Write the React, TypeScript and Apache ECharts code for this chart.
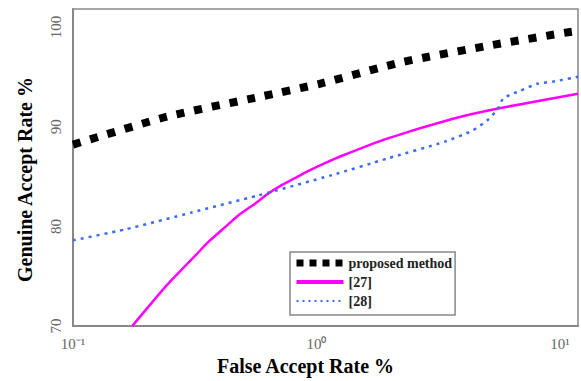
import React, { useEffect, useRef } from "react";
import * as echarts from "echarts";

// False Accept Rate (%) and Genuine Accept Rate (%)
const proposedFAR = [0.1, 0.243, 0.586, 1.03, 2.27, 5.31, 11.0, 11.86];
const proposedGAR = [88.2, 91.0, 93.0, 94.3, 96.5, 98.2, 99.5, 99.6];

const ref27FAR = [0.175, 0.217, 0.245, 0.28, 0.317, 0.358, 0.421, 0.476, 0.559, 0.632, 0.722, 0.816, 0.923, 1.084, 1.273, 1.95, 3.64, 5.51, 11.86];
const ref27GAR = [70.0, 72.72, 74.21, 75.69, 77.03, 78.39, 79.92, 81.07, 82.28, 83.27, 84.16, 84.85, 85.54, 86.34, 87.08, 88.8, 90.8, 91.8, 93.3];

const ref28FAR = [0.1, 0.164, 0.308, 0.575, 1.16, 1.95, 3.37, 4.36, 5.01, 5.56, 5.83, 6.24, 6.86, 8.05, 9.53, 11.86];
const ref28GAR = [78.6, 79.7, 81.4, 83.1, 85.15, 86.8, 88.5, 89.6, 90.6, 91.8, 92.8, 93.2, 93.6, 94.3, 94.55, 95.0];

const seriesNames = ["proposed method", "[27]", "[28]"];
const yTicks = [70, 80, 90, 100];
const xTickLabels: Record<string, string> = { "-1": "10⁻¹", "0": "10⁰", "1": "10¹" };

const zip = (xs: number[], ys: number[]) => xs.map((x, i) => [x, ys[i]]);

const SERIF = "'Liberation Serif', 'Times New Roman', serif";

export default function App() {
  const ref = useRef<HTMLDivElement>(null);
  useEffect(() => {
    if (!ref.current) return;
    const chart = echarts.init(ref.current, undefined, { renderer: "svg" });
    chart.setOption({
      animation: false,
      backgroundColor: "#fff",
      grid: {
        left: 73,
        right: 3,
        top: 9,
        bottom: 51,
        show: true,
        borderColor: "#888",
        borderWidth: 1.5,
      },
      legend: {
        orient: "vertical",
        left: 290,
        top: 252,
        padding: [4, 3, 7, 3],
        itemGap: 5,
        itemWidth: 47,
        itemHeight: 14,
        backgroundColor: "#fff",
        borderColor: "#888",
        borderWidth: 1.5,
        borderRadius: 0,
        itemStyle: { opacity: 0 },
        data: [
          { name: seriesNames[0], lineStyle: { width: 7, type: [7, 6], color: "#000" } },
          { name: seriesNames[1], lineStyle: { width: 4, type: "solid", color: "#ff00ff" } },
          { name: seriesNames[2], lineStyle: { width: 2, type: [2, 4], color: "#3a6cf5" } },
        ],
        textStyle: {
          fontFamily: SERIF,
          fontWeight: "bold",
          fontSize: 14,
          color: "#222",
          width: 125,
        },
      },
      xAxis: {
        type: "log",
        logBase: 10,
        min: 0.1,
        max: 11.86,
        name: "False Accept Rate %",
        nameLocation: "middle",
        nameGap: 26,
        nameTextStyle: {
          fontFamily: SERIF,
          fontWeight: "bold",
          fontSize: 20,
          color: "#000",
          padding: [0, 40, 0, 0],
        },
        axisLine: { show: true, lineStyle: { color: "#888", width: 2 } },
        axisTick: { show: false },
        splitLine: { show: false },
        axisLabel: {
          margin: 10,
          fontFamily: SERIF,
          fontSize: 15,
          color: "#666",
          showMaxLabel: true,
          formatter: (v: number) => {
            const e = Math.log10(v);
            const r = Math.round(e);
            if (Math.abs(e - r) > 1e-6) return "";
            return xTickLabels[String(r)] ?? "";
          },
        },
      },
      yAxis: {
        type: "value",
        min: 70,
        max: 101.8,
        interval: 10,
        name: "Genuine Accept Rate %",
        nameLocation: "middle",
        nameGap: 38,
        nameTextStyle: {
          fontFamily: SERIF,
          fontWeight: "bold",
          fontSize: 20,
          color: "#000",
          padding: [0, 24, 0, 0],
        },
        axisLine: { show: true, lineStyle: { color: "#888", width: 2 } },
        axisTick: { show: false },
        splitLine: { show: false },
        axisLabel: {
          rotate: 90,
          margin: 10,
          fontFamily: SERIF,
          fontSize: 15,
          color: "#666",
          formatter: (v: number) => (yTicks.includes(Math.round(v * 1000) / 1000) ? String(v) : ""),
        },
      },
      series: [
        {
          name: seriesNames[0],
          type: "line",
          smooth: 0.2,
          symbol: "none",
          data: zip(proposedFAR, proposedGAR),
          lineStyle: { color: "#000", width: 8, type: [8, 10], cap: "butt" },
          itemStyle: { color: "#000" },
          z: 3,
        },
        {
          name: seriesNames[1],
          type: "line",
          smooth: 0.2,
          symbol: "none",
          data: zip(ref27FAR, ref27GAR),
          lineStyle: { color: "#ff00ff", width: 2.5, type: "solid", join: "round" },
          itemStyle: { color: "#ff00ff" },
          z: 2,
        },
        {
          name: seriesNames[2],
          type: "line",
          smooth: 0.2,
          symbol: "none",
          data: zip(ref28FAR, ref28GAR),
          lineStyle: { color: "#3a6cf5", width: 2.5, type: [3, 5] },
          itemStyle: { color: "#3a6cf5" },
          z: 2,
        },
      ],
    });
    return () => chart.dispose();
  }, []);
  return <div ref={ref} style={{ width: 581, height: 381, position: "absolute", left: 0, top: 0 }} />;
}
